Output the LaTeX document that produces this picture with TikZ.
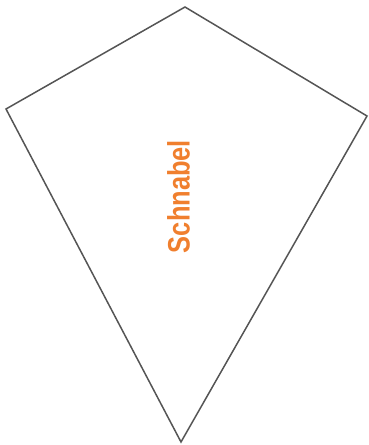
\documentclass[tikz,border=0pt]{standalone}
\usepackage{fontspec}
\setmainfont{Liberation Sans}
\definecolor{kiteline}{HTML}{555555}
\definecolor{kiteorange}{HTML}{F07F2E}
\begin{document}
\begin{tikzpicture}[x=1pt,y=-1pt,
  kiteedge/.style={draw=kiteline,line width=1.5pt,line join=miter},
  kitelabel/.style={text=kiteorange,font=\fontsize{31}{31}\selectfont\bfseries,rotate=90,inner sep=0pt,xscale=0.82}]
\useasboundingbox (0,0) rectangle (368,445);
\coordinate (top) at (185,7);
\coordinate (left) at (6,109);
\coordinate (right) at (367,116);
\coordinate (bottom) at (181,442);
\draw[kiteedge] (top) -- (right) -- (bottom) -- (left) -- cycle;
\node[kitelabel] (lbl) at (178.5,196.5) {Schnabel};
\end{tikzpicture}
\end{document}
